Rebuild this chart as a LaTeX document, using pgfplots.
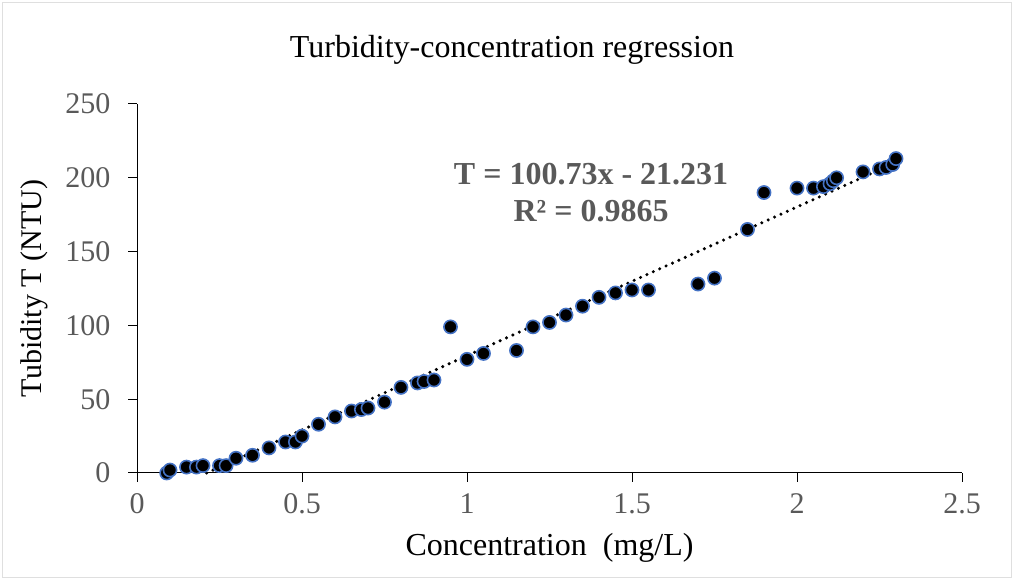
\documentclass[border=0pt]{standalone}
\usepackage{pgfplots}
\pgfplotsset{compat=1.18}
\usepackage{fontspec}
\setmainfont{Liberation Serif}
\definecolor{tickgray}{HTML}{595959}
\definecolor{mblue}{HTML}{4472C4}
\begin{document}
\begin{tikzpicture}[x=1bp,y=1bp]
\path[use as bounding box] (0,0) rectangle (1014,580);
\draw[gray!25, line width=1bp] (2.5,2.5) rectangle (1011.5,577.5);
\node[font=\fontsize{32bp}{36bp}\selectfont] at (512,530) {Turbidity-concentration regression};
\begin{axis}[
  at={(137bp,107bp)}, anchor=south west,
  scale only axis, width=825bp, height=369bp,
  xmin=0, xmax=2.5, ymin=0, ymax=250,
  axis x line*=bottom, axis y line*=left,
  axis line style={black, line width=1bp},
  xtick={0,0.5,1,1.5,2,2.5}, ytick={0,50,100,150,200,250},
  xticklabels={0,0.5,1,1.5,2,2.5},
  yticklabels={0,50,100,150,200,250},
  tick align=outside, major tick length=9bp,
  tick style={black, line width=1bp},
  ticklabel style={font=\fontsize{30bp}{34bp}\selectfont, text=tickgray},
  xticklabel style={yshift=-8bp},
  yticklabel style={xshift=-14bp},
  xlabel={Concentration\ \ (mg/L)},
  ylabel={Tubidity T (NTU)},
  xlabel style={font=\fontsize{32bp}{36bp}\selectfont, at={(axis description cs:0.5,-0.203)}, anchor=center},
  ylabel style={font=\fontsize{30bp}{34bp}\selectfont, at={(axis description cs:-0.124,0.5)}, anchor=center},
  clip=false,
]
\addplot[only marks, mark=*, mark size=6.6bp, mark options={fill=black, draw=mblue, line width=1.6bp}] coordinates {
(0.09,0) (0.10,2) (0.15,4) (0.18,4) (0.20,5) (0.25,5) (0.27,5) (0.30,10)
(0.35,12) (0.40,17) (0.45,21) (0.48,21) (0.50,25) (0.55,33) (0.60,38)
(0.65,42) (0.68,43) (0.70,44) (0.75,48) (0.80,58) (0.85,61) (0.87,62)
(0.90,63) (0.95,99) (1.00,77) (1.05,81) (1.15,83) (1.20,99) (1.25,102)
(1.30,107) (1.35,113) (1.40,119) (1.45,122) (1.50,124) (1.55,124)
(1.70,128) (1.75,132) (1.85,165) (1.90,190) (2.00,193) (2.05,193)
(2.08,194) (2.10,196) (2.11,198) (2.12,200) (2.20,204) (2.25,206)
(2.27,207) (2.29,209) (2.30,213)
};
\addplot[black, line width=3.4bp, line cap=round, dash pattern=on 0pt off 7bp] coordinates {(0.2108,0) (2.30,210.45)};
\node[font=\bfseries\fontsize{32bp}{37bp}\selectfont, text=tickgray, align=center] at (axis cs:1.376,190) {T = 100.73x - 21.231\\R² = 0.9865};
\end{axis}
\end{tikzpicture}
\end{document}
